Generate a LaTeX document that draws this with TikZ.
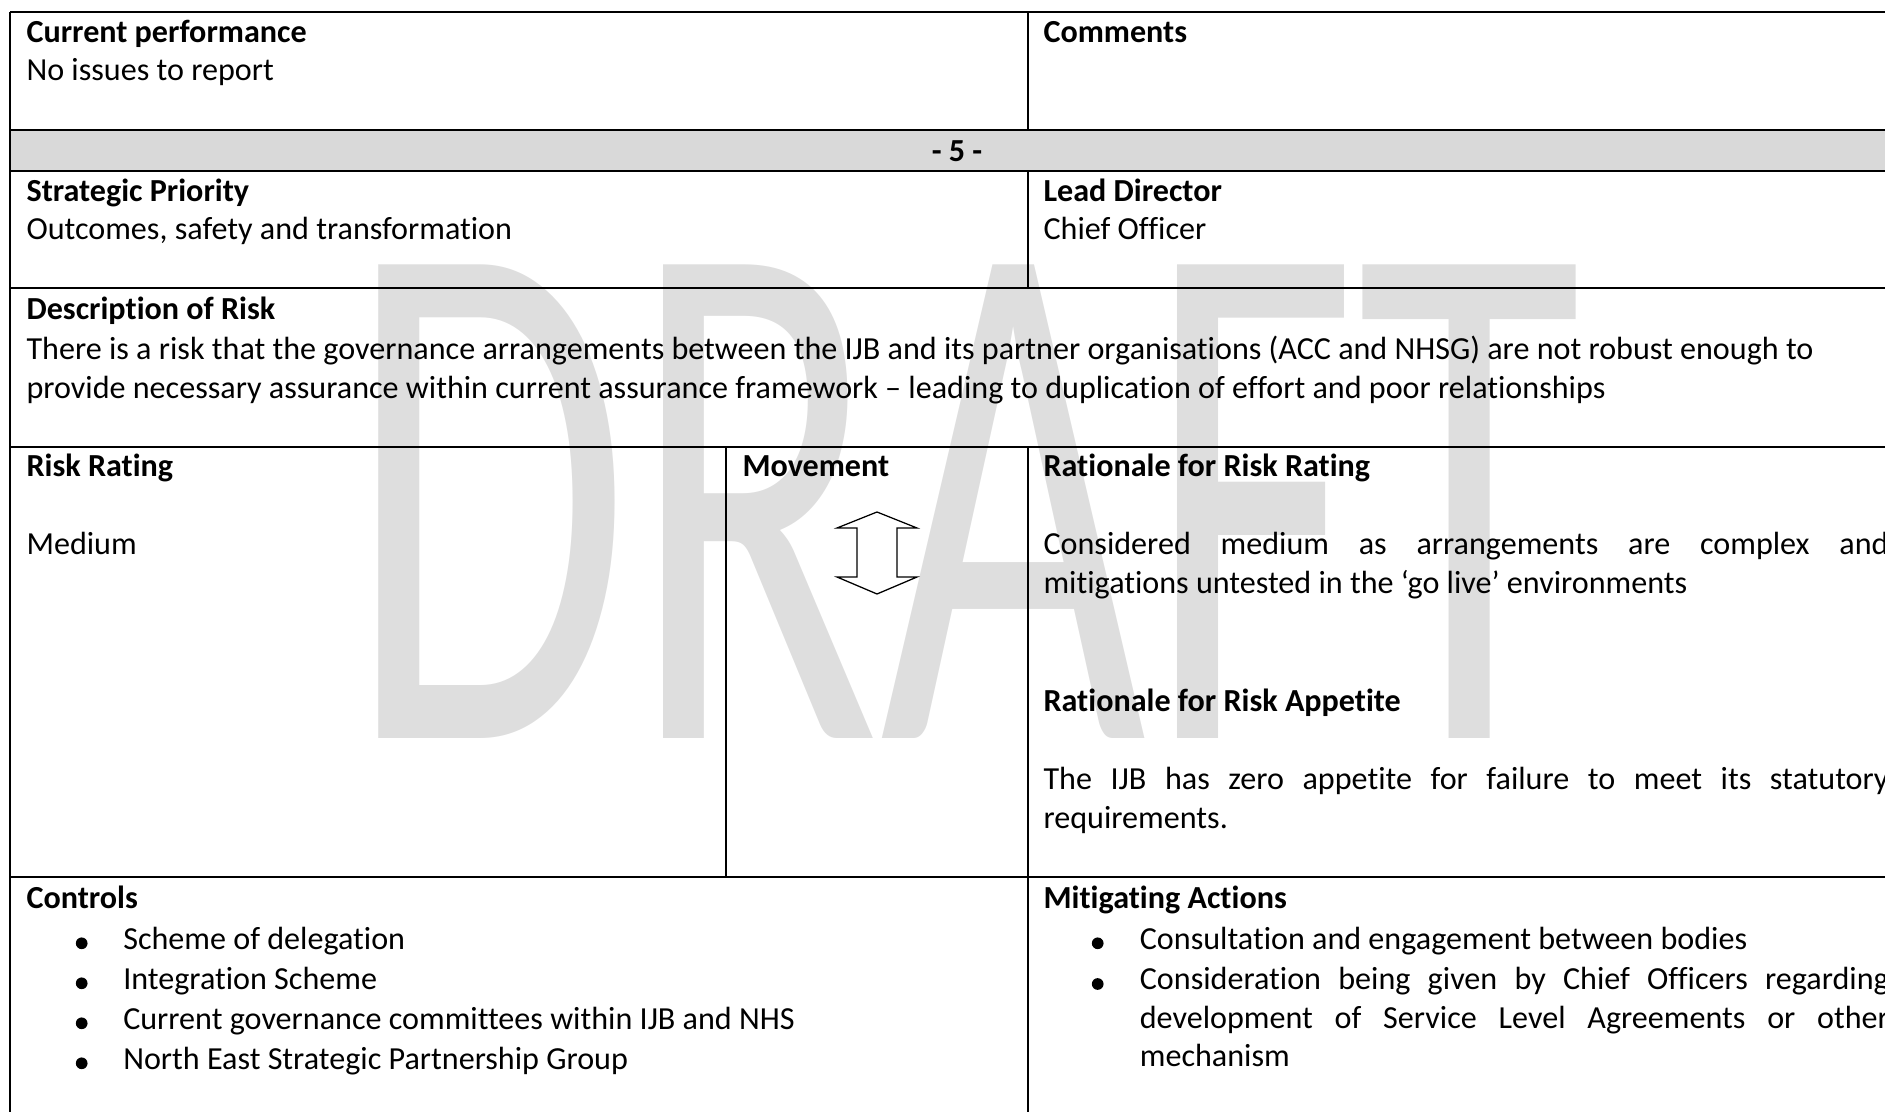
\documentclass[tikz,border=0pt]{standalone}
\usepackage{fontspec}
\setmainfont{Carlito}[Ligatures={TeX,NoCommon}]
\usepackage{graphicx}

\definecolor{bandgray}{RGB}{217,217,217}
\definecolor{wmgray}{RGB}{222,222,222}
\newcommand{\cellfont}{\fontsize{11.24}{13.43}\selectfont}

\begin{document}
\begin{tikzpicture}[x=0.35pt, y=-0.35pt,
      cell/.style={anchor=base west, inner sep=0pt, font=\cellfont},
      head/.style={cell, font=\cellfont\bfseries},
      para/.style={cell, align=justify},
      bul/.style={circle, fill=black, inner sep=0pt, minimum size=4.1pt},
      wm/.style={inner sep=0pt, text=wmgray},
      hrule/.style={line width=0.75pt},
      vrule/.style={line width=0.5pt}]

      \useasboundingbox (0,0) rectangle (1885,1112);
      \clip (0,0) rectangle (1885,1112);

      % Watermark
      \node[wm] (draft) at (964.8,501.5) {\resizebox{431.4pt}{165.55pt}{DRAFT}};

      % Band
      \fill[bandgray] (10,130) rectangle (1904,171);
      \node[anchor=base, inner sep=0pt, font=\cellfont\bfseries] (num) at (957,161.7) {- 5 -};

      % Top rows
      \node[head] (perf) at (26,42.7) {Current performance};
      \node[cell] (perftxt) at (26,81) {No issues to report};
      \node[head] (comm) at (1043,42.7) {Comments};

      \node[head] (prio) at (26,201.7) {Strategic Priority};
      \node[cell] (priotxt) at (26,240) {Outcomes, safety and transformation};
      \node[head] (lead) at (1043,201.7) {Lead Director};
      \node[cell] (leadtxt) at (1043,240) {Chief Officer};

      \node[head] (desc) at (26,320) {Description of Risk};
      \node[cell, text width=651.7pt, align=flush left] (desctxt) at (26,360) {There is a risk that the governance arrangements between the IJB and its partner organisations (ACC and NHSG) are not robust enough to\\provide necessary assurance within current assurance framework -- leading to duplication of effort and poor relationships};

      % Rating row
      \node[head] (rating) at (26,476.7) {Risk Rating};
      \node[cell] (ratingtxt) at (26,555) {Medium};
      \node[head] (move) at (742,476.7) {Movement};
      \draw[line width=0.45pt] (877,512) -- (917,528) -- (897,528) -- (897,577) -- (917,577)
        -- (877,594) -- (837,577) -- (857,577) -- (857,528) -- (837,528) -- cycle;

      \node[head] (ratrat) at (1043,476.7) {Rationale for Risk Rating};
      \node[para, text width=295.75pt] (ratrattxt) at (1043,555) {Considered medium as arrangements are complex and\linebreak mitigations untested in the ‘go live’ environments};
      \node[head] (ratapp) at (1043,711.7) {Rationale for Risk Appetite};
      \node[para, text width=295.75pt] (ratapptxt) at (1043,790) {The IJB has zero appetite for failure to meet its statutory\linebreak requirements.};

      % Controls
      \node[head] (ctrl) at (26,908.3) {Controls};
      \foreach \txt [count=\i] in {Scheme of delegation, Integration Scheme,
          Current governance committees within IJB and NHS, North East Strategic Partnership Group} {
        \node[bul] (cb\i) at (81.7,903.3+40*\i) {};
        \node[cell] (cbt\i) at (122.7,909.3+40*\i) {\txt};
      }

      % Mitigating actions
      \node[head] (mit) at (1043,908.3) {Mitigating Actions};
      \node[bul] (mb1) at (1097.7,943.3) {};
      \node[cell] (mbt1) at (1139.3,949.3) {Consultation and engagement between bodies};
      \node[bul] (mb2) at (1097.7,984) {};
      \node[para, text width=262.15pt] (mbt2) at (1139.3,990) {Consideration being given by Chief Officers regarding\linebreak development of Service Level Agreements or other\linebreak mechanism};

      % Rules
      \foreach \y in {12,130,171,288,447,877} {
        \draw[hrule] (10,\y) -- (1904,\y);
      }
      \draw[vrule] (10,12) -- (10,1112);
      \draw[vrule] (1028,12) -- (1028,130);
      \draw[vrule] (1028,171) -- (1028,288);
      \draw[vrule] (1028,447) -- (1028,1112);
      \draw[vrule] (726,447) -- (726,877);
    \end{tikzpicture}
\end{document}
